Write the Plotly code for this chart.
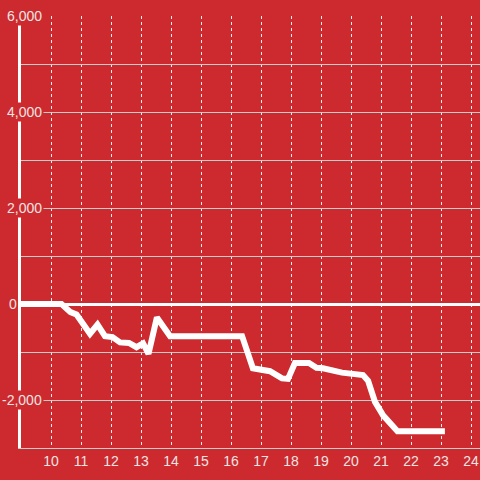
import plotly.graph_objects as go

# data
x_vals = [9, 10.35, 10.65, 10.85, 11.3, 11.55, 11.8, 12.05, 12.3, 12.6, 12.85, 13.07, 13.25,
          13.53, 13.97, 16.37, 16.73, 17.3, 17.7, 17.9, 18.13, 18.6, 18.85, 19.07, 19.7,
          20.1, 20.4, 20.57, 20.8, 21.07, 21.55, 23.13]
y_vals = [0, 0, -170, -220, -620, -430, -670, -690, -800, -810, -900, -820, -1040,
          -280, -670, -670, -1340, -1400, -1550, -1560, -1230, -1230, -1330, -1340, -1430,
          -1460, -1480, -1600, -2040, -2320, -2650, -2650]

x_ticks = list(range(10, 25))
x_tick_labels = [str(v) for v in x_ticks]
y_label_vals = [6000, 4000, 2000, 0, -2000]
y_label_text = ["6,000", "4,000", "2,000", "0", "-2,000"]
y_grid_vals = [6000, 5000, 4000, 3000, 2000, 1000, 0, -1000, -2000, -3000]

BG = "rgb(204,42,46)"
TXT = "#f2e4e4"
FONT = "Liberation Sans, Arial, sans-serif"

fig = go.Figure()
fig.add_trace(go.Scatter(x=x_vals, y=y_vals, mode="lines",
                         line=dict(color="white", width=6), hoverinfo="skip"))

annotations = []
for v, t in zip(y_label_vals, y_label_text):
    if t == "0":
        annotations.append(dict(x=0, xref="paper", y=v, yref="y", text=t,
                                xanchor="left", yanchor="middle", xshift=-14,
                                showarrow=False, font=dict(size=14, color=TXT, family=FONT)))
    else:
        annotations.append(dict(x=0, xref="paper", y=v, yref="y", text=t,
                                xanchor="right", yanchor="middle", xshift=23,
                                bgcolor=BG, borderpad=1,
                                showarrow=False, font=dict(size=14, color=TXT, family=FONT)))

fig.update_layout(
    width=480, height=480,
    margin=dict(l=21, r=0, t=16, b=32, autoexpand=False),
    paper_bgcolor=BG, plot_bgcolor=BG,
    showlegend=False,
    font=dict(family=FONT, size=14, color=TXT),
    annotations=annotations,
    xaxis=dict(range=[9, 24.3], tickvals=x_ticks, ticktext=x_tick_labels,
               showgrid=True, gridcolor="#eeeeee", griddash="dot", gridwidth=1,
               showline=True, linecolor="#cccccc", linewidth=1, automargin=False,
               zeroline=False, ticks="", tickfont=dict(size=14, color=TXT)),
    yaxis=dict(range=[-3000, 6000], tickvals=y_grid_vals, showticklabels=False,
               showgrid=True, gridcolor="#cccccc", gridwidth=1, automargin=False,
               showline=True, linecolor="white", linewidth=3,
               zeroline=True, zerolinecolor="white", zerolinewidth=3, ticks=""),
)

fig.write_html("out.html", config={"displayModeBar": False},
               post_script="document.body.style.margin='0';document.body.style.background='rgb(204,42,46)';")
